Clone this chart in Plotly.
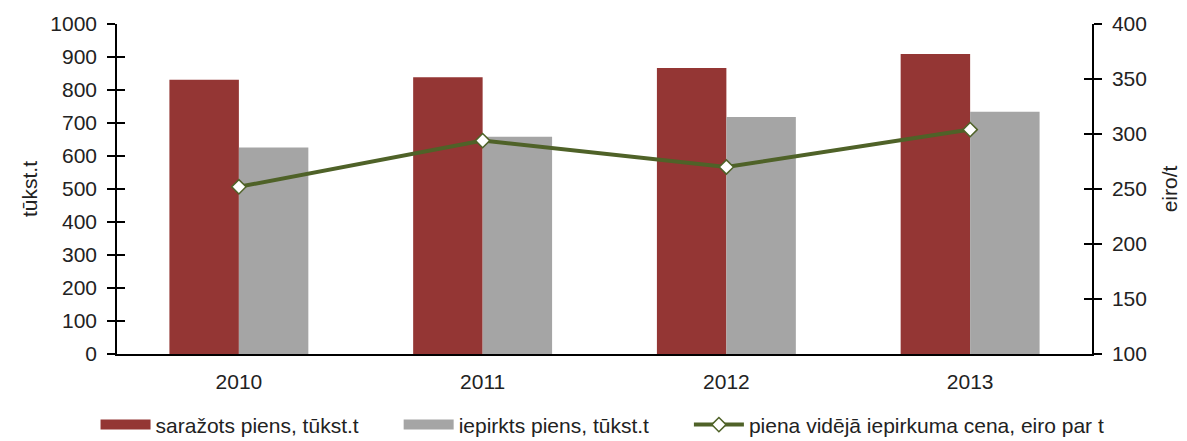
import plotly.graph_objects as go

years = ["2010", "2011", "2012", "2013"]
produced = [831, 839, 867, 909]
purchased = [626, 658, 718, 734]
price = [252, 294, 270, 304]

names = ["saražots piens, tūkst.t", "iepirkts piens, tūkst.t",
         "piena vidējā iepirkuma cena, eiro par t"]
colors = ["#943634", "#A5A5A5", "#4F6228"]

FONT = "Liberation Sans"
FS = 21
PAD = "\u00a0" * 6  # spacing between legend entries
fig = go.Figure()

fig.add_trace(go.Bar(x=years, y=produced, name=names[0], showlegend=False,
                     marker=dict(color=colors[0], line=dict(width=0)), yaxis="y"))
fig.add_trace(go.Bar(x=years, y=purchased, name=names[1], showlegend=False,
                     marker=dict(color=colors[1], line=dict(width=0)), yaxis="y"))

# wide swatches for the bar series in the legend
for nm, c in zip(names[:2], colors[:2]):
    fig.add_trace(go.Scatter(x=[None], y=[None], name=nm + PAD, mode="lines",
                             line=dict(color=c, width=15), hoverinfo="skip"))

fig.add_trace(go.Scatter(x=years, y=price, name=names[2], yaxis="y2", mode="lines+markers",
                         line=dict(color=colors[2], width=4),
                         marker=dict(symbol="diamond", size=11, color="white",
                                     line=dict(color=colors[2], width=1.5))))

axis_common = dict(showline=True, linecolor="black", linewidth=1.5, showgrid=False,
                   zeroline=False, tickcolor="black", tickwidth=1.5, ticklen=8,
                   automargin=False,
                   tickfont=dict(family=FONT, size=FS, color="#222"))

fig.update_layout(
    width=1179, height=433,
    margin=dict(l=109, r=95, t=16, b=87, autoexpand=False),
    paper_bgcolor="white", plot_bgcolor="white",
    barmode="group", bargap=0.43, bargroupgap=0,
    font=dict(family=FONT, size=FS, color="#222"),
    xaxis=dict(showline=True, linecolor="black", linewidth=1.5, showgrid=False,
               ticks="", automargin=False, ticklabelstandoff=8,
               tickfont=dict(family=FONT, size=FS, color="#222")),
    yaxis=dict(range=[0, 1000], dtick=100, ticks="outside",
               title=dict(text="tūkst.t", font=dict(family=FONT, size=FS), standoff=7),
               ticklabelstandoff=6, **axis_common),
    yaxis2=dict(range=[100, 400], dtick=50, ticks="outside", side="right",
                overlaying="y",
                title=dict(text="eiro/t", font=dict(family=FONT, size=FS), standoff=16),
                ticklabelstandoff=6, **axis_common),
    yaxis3=dict(range=[0, 1000], dtick=100, ticks="inside", overlaying="y", side="left",
                showticklabels=False, **axis_common),
    yaxis4=dict(range=[100, 400], dtick=50, ticks="inside", overlaying="y", side="right",
                showticklabels=False, **axis_common),
    legend=dict(orientation="h", x=-0.022, xanchor="left", y=-0.215, yanchor="middle",
                font=dict(family=FONT, size=FS, color="#222"), itemwidth=50,
                traceorder="normal"),
)

# invisible traces so the inside-tick axes get drawn
fig.add_trace(go.Scatter(x=years, y=produced, yaxis="y3", mode="none", showlegend=False,
                         hoverinfo="skip"))
fig.add_trace(go.Scatter(x=years, y=price, yaxis="y4", mode="none", showlegend=False,
                         hoverinfo="skip"))

fig.write_html("out.html")
